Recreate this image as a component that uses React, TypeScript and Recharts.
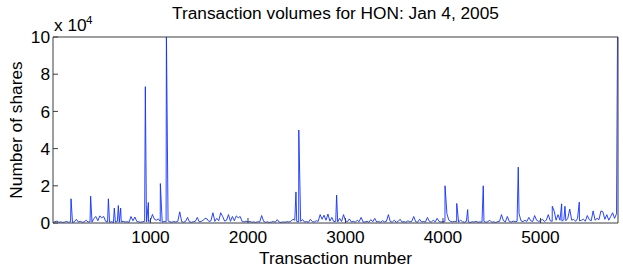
import React from "react";
import { LineChart, Line, XAxis, YAxis } from "recharts";

// Baseline volumes (shares), one reading every 20 transactions starting at 0
const baseStep = 20;
const baseVolumes: number[] = [
  300, 700, 1000, 400, 600, 300, 500, 800, 400, 600, 300, 700, 2000, 500, 900, 400, 600, 1500, 500, 700,
  500, 2500, 3500, 1200, 3800, 2800, 3500, 900, 600, 400, 700, 300, 500, 800, 400, 600, 900, 500, 700, 400,
  3500, 1200, 3200, 800, 600, 400, 700, 900, 600, 700, 1500, 4600, 2000, 1500, 2200, 900, 500, 800, 600, 1200,
  600, 400, 800, 500, 900, 6000, 700, 400, 900, 3000, 600, 400, 700, 900, 3000, 600, 800, 1500, 2500, 2200,
  800, 1200, 5500, 900, 2500, 1200, 5500, 3500, 1000, 1500, 4500, 900, 3500, 1200, 3800, 2800, 3500, 800, 600, 1000,
  500, 800, 400, 600, 300, 700, 500, 4000, 900, 400, 600, 300, 500, 800, 400, 1800, 500, 300, 600, 400,
  700, 500, 900, 2000, 1500, 800, 600, 900, 1800, 500, 800, 400, 2000, 700, 500, 1200, 900, 4500, 2000, 4200,
  1500, 4800, 1000, 3000, 700, 900, 600, 2500, 800, 4500, 1200, 700, 2200, 500, 900, 400, 1500, 700, 3000, 600,
  500, 900, 400, 1800, 700, 2500, 500, 800, 400, 1200, 600, 900, 4500, 700, 500, 1500, 400, 800, 2000, 500,
  700, 400, 1200, 600, 900, 3500, 700, 400, 2000, 600, 800, 500, 3000, 900, 500, 1500, 600, 2500, 800, 500,
  700, 900, 5000, 1500, 800, 600, 900, 700, 500, 1500, 700, 400, 900, 600, 300, 700, 500, 900, 400, 600,
  500, 800, 400, 700, 1500, 400, 600, 300, 700, 900, 4500, 1200, 600, 3500, 800, 500, 1000, 700, 900, 5000,
  1200, 700, 1500, 800, 3000, 1200, 800, 4000, 1500, 900, 1200, 2000, 800, 1500, 4500, 1200, 900, 6500, 1500, 4500,
  1500, 1000, 1800, 1200, 2500, 7500, 1500, 2000, 900, 2500, 1200, 1500, 2000, 1000, 4000, 1800, 1200, 6500, 1500, 2500,
  1800, 6500, 6000, 2000, 4500, 1500, 3500, 5500, 2500, 5000,
];

// Large individual trades
const spikeTxn: number[] = [185, 386, 568, 629, 670, 694, 947, 957, 978, 1101, 1163, 2492, 2521, 2909, 4021, 4141, 4253, 4413, 4772, 5121, 5217, 5251, 5398, 5795];
const spikeVol: number[] = [13000, 14400, 13000, 8000, 9400, 8000, 73300, 10000, 11000, 21200, 104000, 16700, 50000, 15000, 20000, 10500, 7200, 20000, 30000, 9000, 10300, 9000, 11200, 150000];

const xTicks = [1000, 2000, 3000, 4000, 5000];
const yTicks = [0, 20000, 40000, 60000, 80000, 100000];
const xMax = 5795;

const data = [
  ...baseVolumes.map((v, i) => ({ txn: i * baseStep, vol: v })),
  ...spikeTxn.map((t, i) => ({ txn: t, vol: spikeVol[i] })),
].sort((a, b) => a.txn - b.txn);

const FONT = "'Liberation Sans', Arial, Helvetica, sans-serif";
const AXIS = "#3c3c3c";
const FS = 17.3;
const tickStyle = { fontSize: FS, fill: "#000", fontFamily: FONT };

export default function App() {
  return (
    <div style={{ position: "absolute", left: 0, top: 0, width: 623, height: 270, background: "#fff" }}>
      <LineChart width={623} height={270} data={data} margin={{ top: 36, right: 4, bottom: 17, left: 0 }}>
        <XAxis
          xAxisId="bottom"
          dataKey="txn"
          type="number"
          domain={[0, xMax]}
          allowDataOverflow
          ticks={xTicks}
          tickSize={-5}
          tickMargin={13}
          height={30}
          tick={tickStyle}
          axisLine={{ stroke: AXIS }}
          tickLine={{ stroke: AXIS }}
          interval={0}
        />
        <XAxis
          xAxisId="top"
          orientation="top"
          dataKey="txn"
          type="number"
          domain={[0, xMax]}
          allowDataOverflow
          ticks={xTicks}
          tickSize={-5}
          height={1}
          tick={false}
          axisLine={{ stroke: AXIS }}
          tickLine={{ stroke: AXIS }}
        />
        <YAxis
          yAxisId="left"
          type="number"
          domain={[0, 100000]}
          allowDataOverflow
          ticks={yTicks}
          tickFormatter={(v: number) => String(v / 10000)}
          tickSize={-5}
          tickMargin={8}
          width={53}
          tick={tickStyle}
          axisLine={{ stroke: AXIS }}
          tickLine={{ stroke: AXIS }}
          interval={0}
        />
        <YAxis
          yAxisId="right"
          orientation="right"
          type="number"
          domain={[0, 100000]}
          allowDataOverflow
          ticks={yTicks}
          tickSize={-5}
          width={1}
          tick={false}
          axisLine={{ stroke: AXIS }}
          tickLine={{ stroke: AXIS }}
        />
        <Line
          xAxisId="bottom"
          yAxisId="left"
          type="linear"
          dataKey="vol"
          stroke="#1030ff"
          strokeWidth={0.9}
          dot={false}
          activeDot={false}
          isAnimationActive={false}
        />
      </LineChart>
      <svg
        width={623}
        height={270}
        style={{ position: "absolute", left: 0, top: 0, pointerEvents: "none" }}
        fontFamily={FONT}
      >
        <text x={335.5} y={19} textAnchor="middle" fontSize={FS} fill="#000">
          Transaction volumes for HON: Jan 4, 2005
        </text>
        <text x={54} y={31} fontSize={FS} fill="#000">x 10</text>
        <text x={86} y={24} fontSize={11.5} fill="#000">4</text>
        <text x={335.5} y={264} textAnchor="middle" fontSize={FS} fill="#000">
          Transaction number
        </text>
        <text x={22} y={130} textAnchor="middle" fontSize={FS} fill="#000" transform="rotate(-90 22 130)">
          Number of shares
        </text>
      </svg>
    </div>
  );
}
